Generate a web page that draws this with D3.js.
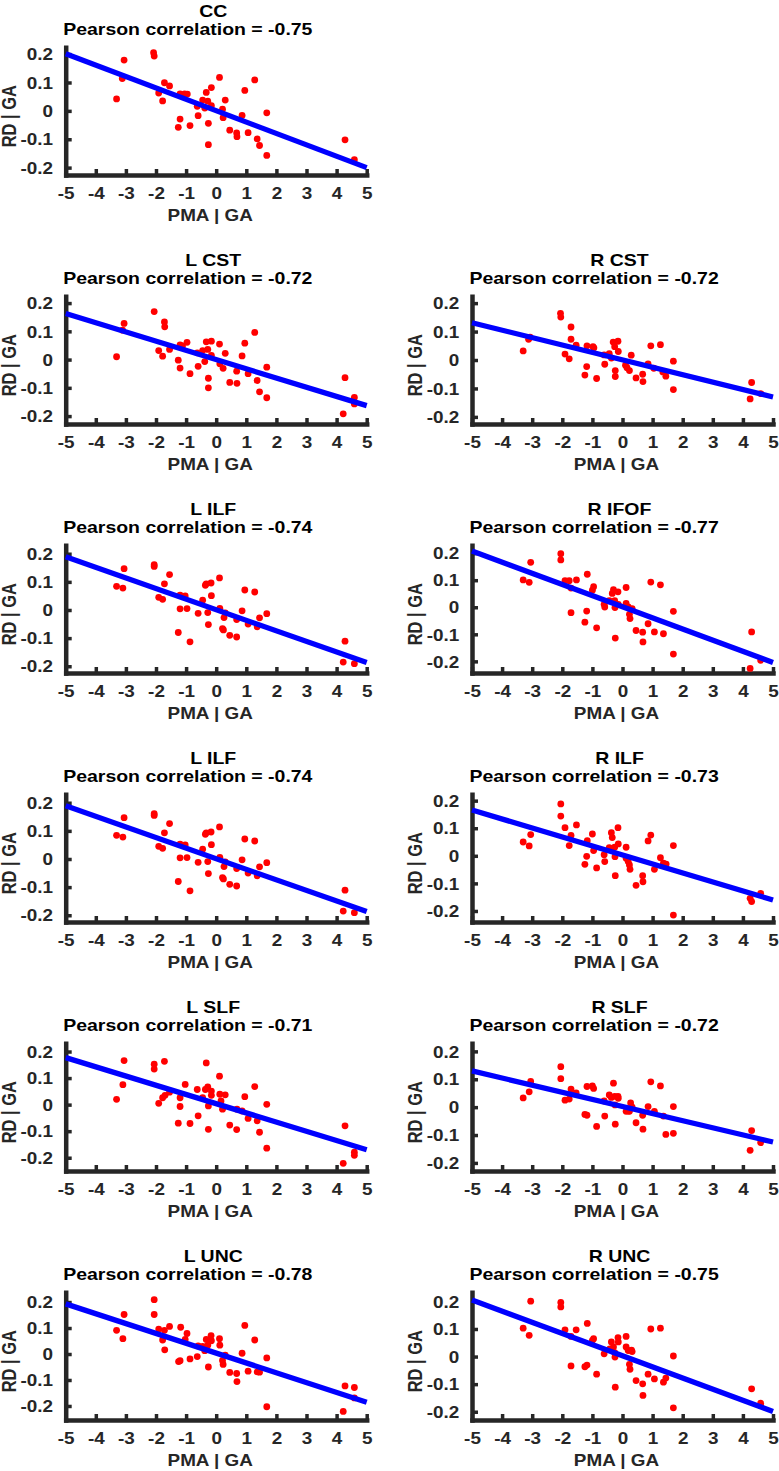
<!DOCTYPE html>
<html><head><meta charset="utf-8">
<script src="https://cdn.jsdelivr.net/npm/d3@7"></script>
<style>
body{margin:0;background:#fff;}
svg{display:block;font-family:"Liberation Sans",Arial,Helvetica,sans-serif;font-weight:bold;}
</style></head><body>
<svg id="chart" width="779" height="1471"></svg>
<script>
// ---------- data ----------
const panelNames = ["CC","L CST","R CST","L ILF","R IFOF","L ILF","R ILF","L SLF","R SLF","L UNC","R UNC"];
const pearsonR = ["-0.75","-0.72","-0.72","-0.74","-0.77","-0.74","-0.73","-0.71","-0.72","-0.78","-0.75"];
const xLabel = "PMA | GA";
const yLabel = "RD | GA";
const xDomain = [-5, 5];
const xTicks = [-5,-4,-3,-2,-1,0,1,2,3,4,5];
const yTicks = [0.2, 0.1, 0, -0.1, -0.2];
const yTickLabels = ["0.2","0.1","0","-0.1","-0.2"];
const yDomains = [[-0.226,0.224],[-0.228,0.224],[-0.225,0.224],[-0.224,0.230],[-0.243,0.229],
                  [-0.224,0.230],[-0.240,0.223],[-0.250,0.231],[-0.229,0.229],[-0.254,0.2375],[-0.230,0.233]];
// fitted line value at x=-5 and x=5
const fitLines = [[0.201,-0.200],[0.163,-0.163],[0.131,-0.130],[0.189,-0.187],[0.208,-0.204],
                  [0.189,-0.187],[0.166,-0.160],[0.177,-0.170],[0.130,-0.125],[0.193,-0.186],[0.205,-0.199]];

const ccPoints = [[-3.31,0.042],[-3.12,0.114],[-3.06,0.179],[-2.08,0.205],[-2.06,0.193],[-1.91,0.063],[-1.78,0.035],[-1.72,0.099],[-1.55,0.088],[-1.20,0.060],[-1.20,-0.029],[-1.26,-0.058],[-1.05,0.060],[-0.96,0.059],[-0.87,-0.052],[-0.63,0.016],[-0.60,-0.017],[-0.45,0.038],[-0.38,0.010],[-0.33,0.065],[-0.28,0.034],[-0.26,-0.044],[-0.26,-0.119],[-0.16,0.082],[-0.16,0.018],[0.11,0.118],[0.21,0.006],[0.23,-0.024],[0.30,0.038],[0.45,-0.068],[0.68,-0.078],[0.69,-0.091],[0.86,-0.016],[0.95,0.072],[1.06,-0.077],[1.28,0.109],[1.36,-0.099],[1.44,-0.122],[1.68,-0.007],[1.68,-0.157],[4.28,-0.102],[4.59,-0.172]];
const lCstPoints = [[-3.31,0.010],[-3.11,0.104],[-3.06,0.128],[-2.06,0.170],[-1.72,0.133],[-1.71,0.116],[-1.91,0.032],[-1.78,0.012],[-1.55,0.036],[-1.20,0.052],[-1.12,0.048],[-1.26,-0.002],[-1.20,-0.030],[-0.97,0.061],[-0.87,-0.050],[-0.60,-0.024],[-0.63,0.024],[-0.45,0.032],[-0.38,-0.007],[-0.33,0.063],[-0.28,0.036],[-0.26,-0.066],[-0.26,-0.100],[-0.16,0.065],[-0.16,0.015],[0.11,0.055],[0.12,-0.015],[0.23,-0.031],[0.30,0.022],[0.45,-0.081],[0.68,-0.041],[0.69,-0.084],[0.86,0.013],[0.95,0.058],[1.06,-0.050],[1.28,0.096],[1.36,-0.074],[1.44,-0.114],[1.68,-0.027],[1.68,-0.135],[4.28,-0.064],[4.22,-0.192],[4.59,-0.134],[4.59,-0.157]];
const rCstPoints = [[-3.30,0.032],[-3.12,0.073],[-3.07,0.080],[-2.06,0.164],[-2.05,0.151],[-1.91,0.021],[-1.77,0.004],[-1.71,0.116],[-1.71,0.073],[-1.54,0.052],[-1.18,0.050],[-1.25,-0.053],[-1.19,-0.023],[-0.98,0.047],[-0.95,0.043],[-0.86,-0.065],[-0.61,0.018],[-0.59,-0.015],[-0.44,0.022],[-0.37,0.007],[-0.31,0.063],[-0.26,0.047],[-0.24,-0.037],[-0.24,-0.058],[-0.15,0.066],[-0.14,0.030],[0.10,-0.018],[0.15,-0.027],[0.23,-0.037],[0.29,0.017],[0.45,-0.063],[0.67,-0.050],[0.68,-0.076],[0.85,-0.014],[0.94,0.050],[1.04,-0.029],[1.26,0.054],[1.34,-0.042],[1.44,-0.057],[1.69,-0.004],[1.69,-0.104],[4.29,-0.079],[4.24,-0.137],[4.59,-0.118]];
const lIlfPoints = [[-3.31,0.084],[-3.10,0.078],[-3.06,0.147],[-2.06,0.161],[-2.06,0.155],[-1.91,0.045],[-1.78,0.038],[-1.72,0.093],[-1.55,0.126],[-1.20,0.053],[-1.20,0.004],[-1.26,-0.080],[-1.03,0.050],[-0.97,0.005],[-0.87,-0.113],[-0.60,-0.012],[-0.45,0.035],[-0.36,0.088],[-0.33,0.093],[-0.28,-0.009],[-0.26,-0.052],[-0.17,0.096],[-0.16,0.051],[0.11,0.114],[0.12,0.006],[0.21,-0.066],[0.24,-0.071],[0.26,-0.027],[0.30,-0.010],[0.45,-0.090],[0.68,-0.096],[0.68,-0.034],[0.86,-0.003],[0.95,0.071],[1.06,-0.050],[1.28,0.064],[1.36,-0.060],[1.44,-0.028],[1.68,-0.013],[4.28,-0.111],[4.22,-0.185],[4.59,-0.191]];
const rIfofPoints = [[-3.30,0.101],[-3.10,0.092],[-3.05,0.166],[-2.05,0.198],[-2.05,0.175],[-1.91,0.098],[-1.77,0.098],[-1.53,0.101],[-1.71,0.071],[-1.71,-0.020],[-1.25,-0.055],[-1.19,-0.014],[-1.17,0.122],[-1.00,0.063],[-0.96,0.076],[-0.86,-0.076],[-0.61,0.011],[-0.59,0.001],[-0.44,0.024],[-0.34,0.051],[-0.30,0.065],[-0.26,0.024],[-0.25,-0.001],[-0.24,-0.114],[-0.15,0.057],[-0.14,0.011],[0.12,0.073],[0.12,0.014],[0.19,0.001],[0.23,-0.026],[0.25,-0.042],[0.32,-0.005],[0.45,-0.086],[0.67,-0.092],[0.68,-0.128],[0.85,-0.061],[0.94,0.093],[1.06,-0.091],[1.26,0.083],[1.36,-0.098],[1.69,-0.015],[1.69,-0.173],[4.29,-0.091],[4.24,-0.226],[4.59,-0.196]];
const rIlfPoints = [[-3.30,0.050],[-3.10,0.036],[-3.05,0.077],[-2.05,0.188],[-2.05,0.144],[-1.91,0.102],[-1.77,0.037],[-1.71,0.074],[-1.53,0.112],[-1.25,-0.031],[-1.19,-0.002],[-1.17,0.055],[-1.00,0.079],[-0.96,0.019],[-0.86,-0.044],[-0.61,0.004],[-0.59,-0.021],[-0.44,0.030],[-0.37,0.084],[-0.34,0.066],[-0.26,0.031],[-0.25,-0.003],[-0.24,-0.072],[-0.15,0.102],[-0.14,0.043],[0.12,0.031],[0.12,-0.009],[0.19,-0.021],[0.23,-0.033],[0.25,-0.049],[0.45,-0.107],[0.67,-0.072],[0.68,-0.094],[0.85,0.054],[0.94,0.075],[1.06,-0.049],[1.26,-0.007],[1.36,-0.027],[1.45,-0.030],[1.69,0.037],[1.69,-0.215],[4.24,-0.154],[4.29,-0.166],[4.59,-0.136]];
const lSlfPoints = [[-3.31,0.020],[-3.10,0.075],[-3.06,0.166],[-2.06,0.152],[-2.06,0.134],[-1.91,0.005],[-1.78,0.026],[-1.72,0.163],[-1.70,0.035],[-1.55,0.047],[-1.20,0.026],[-1.20,-0.007],[-1.26,-0.070],[-1.03,0.076],[-0.87,-0.071],[-0.60,-0.042],[-0.63,0.057],[-0.45,0.026],[-0.33,0.157],[-0.36,0.057],[-0.28,0.067],[-0.26,-0.005],[-0.26,-0.093],[-0.16,0.051],[-0.16,0.035],[0.11,0.107],[0.12,0.039],[0.16,0.014],[0.21,-0.017],[0.30,0.037],[0.45,-0.077],[0.68,-0.094],[0.69,-0.017],[0.86,-0.024],[0.95,0.030],[1.06,-0.052],[1.28,0.068],[1.36,-0.061],[1.44,-0.104],[1.68,0.001],[1.68,-0.164],[4.28,-0.080],[4.22,-0.221],[4.59,-0.179],[4.59,-0.191]];
const rSlfPoints = [[-3.30,0.033],[-3.10,0.055],[-3.05,0.092],[-2.05,0.145],[-2.05,0.102],[-1.91,0.025],[-1.77,0.029],[-1.71,0.065],[-1.54,0.051],[-1.25,-0.026],[-1.18,-0.029],[-1.18,0.074],[-1.00,0.076],[-0.96,0.067],[-0.86,-0.069],[-0.61,0.022],[-0.59,-0.032],[-0.44,0.044],[-0.37,0.035],[-0.30,0.086],[-0.26,0.039],[-0.25,0.008],[-0.24,-0.061],[-0.15,0.039],[-0.14,0.032],[0.12,-0.015],[0.19,-0.014],[0.23,-0.015],[0.27,0.015],[0.32,0.000],[0.45,-0.056],[0.67,-0.029],[0.68,-0.079],[0.85,0.002],[0.94,0.091],[1.06,-0.015],[1.26,0.076],[1.36,-0.032],[1.44,-0.098],[1.69,-0.094],[1.69,0.002],[4.29,-0.084],[4.24,-0.155],[4.59,-0.127]];
const lUncPoints = [[-3.31,0.091],[-3.10,0.059],[-3.06,0.152],[-2.06,0.209],[-2.06,0.152],[-1.91,0.096],[-1.78,0.054],[-1.72,0.091],[-1.71,0.016],[-1.55,0.106],[-1.20,-0.026],[-1.25,-0.029],[-1.18,0.103],[-0.97,0.079],[-1.03,0.056],[-0.87,-0.019],[-0.63,-0.010],[-0.60,0.031],[-0.45,0.029],[-0.38,0.013],[-0.33,0.056],[-0.26,-0.050],[-0.28,0.034],[-0.17,0.071],[-0.16,0.051],[0.11,0.059],[0.12,0.034],[0.21,-0.025],[0.23,-0.040],[0.30,-0.004],[0.45,-0.071],[0.68,-0.075],[0.69,-0.106],[0.86,0.003],[0.95,0.110],[1.06,-0.066],[1.28,0.054],[1.36,-0.069],[1.44,-0.070],[1.68,-0.015],[1.68,-0.203],[4.28,-0.123],[4.22,-0.221],[4.59,-0.129],[4.59,-0.169]];
const rUncPoints = [[-3.30,0.103],[-3.10,0.077],[-3.05,0.201],[-2.05,0.196],[-2.05,0.180],[-1.91,0.097],[-1.71,0.073],[-1.71,-0.034],[-1.54,0.097],[-1.25,-0.037],[-1.18,-0.031],[-1.17,0.120],[-1.00,0.059],[-0.96,0.065],[-0.86,-0.064],[-0.61,0.010],[-0.42,0.028],[-0.37,0.053],[-0.30,0.035],[-0.26,0.014],[-0.25,-0.002],[-0.24,-0.111],[-0.15,0.069],[-0.14,0.053],[0.12,0.073],[0.12,0.035],[0.19,0.022],[0.23,-0.028],[0.25,-0.046],[0.30,0.023],[0.32,0.018],[0.45,-0.087],[0.67,-0.099],[0.68,-0.141],[0.85,-0.064],[0.94,0.100],[1.06,-0.081],[1.26,0.103],[1.36,-0.093],[1.44,-0.078],[1.69,0.002],[1.69,-0.186],[4.29,-0.117],[4.59,-0.169],[4.59,-0.178]];

const panelPoints = [ccPoints,lCstPoints,rCstPoints,lIlfPoints,rIfofPoints,lIlfPoints,rIlfPoints,lSlfPoints,rSlfPoints,lUncPoints,rUncPoints];

// ---------- layout ----------
const gridPos = [[0,0],[1,0],[1,1],[2,0],[2,1],[3,0],[3,1],[4,0],[4,1],[5,0],[5,1]];
const colX = [65.7, 472];
const axW = 301, axTop0 = 47.3, axH = 127.7, rowPitch = 249;
const SX = 1.18;             // horizontal text stretch seen in the figure
const axisColor = "#262626";

const svg = d3.select("#chart");

panelPoints.forEach((pts, i) => {
  const [row, col] = gridPos[i];
  const left = colX[col], right = left + axW;
  const top = axTop0 + row * rowPitch, bot = top + axH;
  const x = d3.scaleLinear().domain(xDomain).range([left, right]);
  const y = d3.scaleLinear().domain(yDomains[i]).range([bot, top]);
  const g = svg.append("g");

  // axes (drawn under data, like MATLAB default layer)
  const gx = g.append("g").attr("transform", `translate(0,${bot})`)
    .call(d3.axisBottom(x).tickValues(xTicks).tickSizeInner(-6).tickSizeOuter(0).tickFormat(d => String(d)));
  const gy = g.append("g").attr("transform", `translate(${left},0)`)
    .call(d3.axisLeft(y).tickValues(yTicks).tickSizeInner(-6).tickSizeOuter(0)
      .tickFormat((d, k) => yTickLabels[k]));
  [gx, gy].forEach(a => {
    a.attr("font-size", null).attr("font-family", null);
    a.select(".domain").attr("stroke", axisColor).attr("stroke-width", 4.5).attr("stroke-linecap", "square");
    a.selectAll(".tick line").attr("stroke", axisColor).attr("stroke-width", 3.5);
    a.selectAll(".tick text").attr("fill", axisColor).attr("font-size", 16)
      .attr("x", null).attr("y", null).attr("dy", null);
  });
  gx.selectAll(".tick text").attr("text-anchor", "middle")
    .attr("transform", `translate(0,24.3) scale(${SX},1)`);
  gy.selectAll(".tick text").attr("text-anchor", "end")
    .attr("transform", `translate(-12.7,5.7) scale(${SX},1)`);

  // axis labels
  g.append("text").text(xLabel).attr("fill", axisColor).attr("font-size", 16)
    .attr("text-anchor", "middle")
    .attr("transform", `translate(${(left + right) / 2 - 6},${bot + 45.5}) scale(${SX},1)`);
  g.append("text").text(yLabel).attr("fill", axisColor).attr("font-size", 16.5)
    .attr("text-anchor", "middle")
    .attr("transform", `translate(${left - 49.7},${(top + bot) / 2 + 5}) scale(${SX},1) rotate(-90)`);

  // titles
  g.append("text").text(panelNames[i]).attr("fill", "#000").attr("font-size", 16.5)
    .attr("text-anchor", "middle")
    .attr("transform", `translate(${(left + right) / 2 - 3},${top - 30.5}) scale(${SX},1)`);
  g.append("text").text(`Pearson correlation = ${pearsonR[i]}`).attr("fill", "#000").attr("font-size", 16.5)
    .attr("text-anchor", "start")
    .attr("transform", `translate(${left - 2.5},${top - 12.3}) scale(${SX},1)`);

  // scatter points
  g.append("g").selectAll("circle").data(pts).join("circle")
    .attr("cx", d => x(d[0])).attr("cy", d => y(d[1])).attr("r", 3.4).attr("fill", "#ff0000");

  // regression line
  const fit = [[xDomain[0], fitLines[i][0]], [xDomain[1], fitLines[i][1]]];
  g.append("path").datum(fit)
    .attr("d", d3.line().x(d => x(d[0])).y(d => y(d[1])))
    .attr("fill", "none").attr("stroke", "#0000ff").attr("stroke-width", 5.3).attr("stroke-linecap", "butt");
});
</script>
</body></html>
